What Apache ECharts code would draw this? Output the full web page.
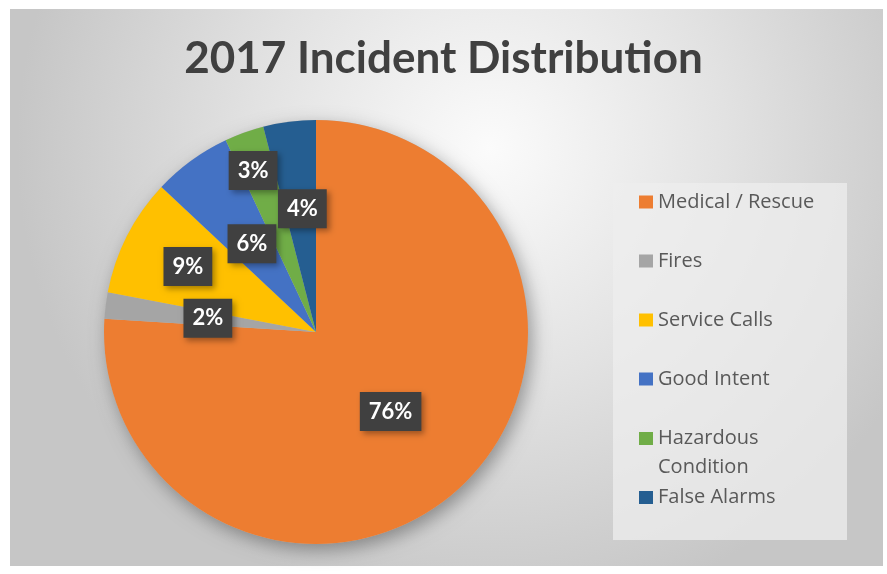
<!doctype html>
<html lang="en">
  <head>
    <meta charset="UTF-8" />
    <title>2017 Incident Distribution</title>
    <script src="https://cdn.jsdelivr.net/npm/echarts@6/dist/echarts.min.js"></script>
    <style>
      html, body { margin: 0; padding: 0; background: #fff; }
      #chart { width: 887px; height: 574px; }
    </style>
  </head>
  <body>
    <div id="chart"></div>
    <script>
      // Data
      var categories = ['Medical / Rescue', 'Fires', 'Service Calls', 'Good Intent', 'Hazardous Condition', 'False Alarms'];
      var shares = [76, 2, 9, 6, 3, 4];
      var sliceColors = ['#ED7D31', '#A5A5A5', '#FFC000', '#4472C4', '#70AD47', '#255E91'];

      // Excel nudged a few labels away from the middle radius
      var labelNudge = {
        'Service Calls': [-31, -16],
        'Hazardous Condition': [-26, -59],
        'False Alarms': [0, -15]
      };

      var pieData = categories.map(function (name, i) {
        var item = { name: name, value: shares[i], itemStyle: { color: sliceColors[i] } };
        if (labelNudge[name]) item.label = { offset: labelNudge[name] };
        return item;
      });

      // legend entries; the one after the two-line entry gets a shorter box
      var legendData = categories.map(function (name) {
        if (name === 'False Alarms') return { name: name, textStyle: { lineHeight: 38 } };
        return { name: name };
      });

      var chart = echarts.init(document.getElementById('chart'), null, { renderer: 'canvas' });

      chart.setOption({
        animation: false,
        graphic: [
          {
            type: 'rect',
            shape: { x: 10, y: 9, width: 873, height: 557 },
            style: {
              fill: {
                type: 'radial', x: 0.55, y: 0.25, r: 0.85,
                colorStops: [
                  { offset: 0, color: '#fbfbfb' },
                  { offset: 0.5, color: '#e2e2e2' },
                  { offset: 1, color: '#c6c6c6' }
                ]
              }
            },
            z: -10
          },
          {
            type: 'rect',
            shape: { x: 613, y: 183, width: 234, height: 357 },
            style: { fill: 'rgba(238,238,238,0.75)' },
            z: -9
          }
        ],
        title: {
          text: '2017 Incident Distribution',
          left: 'center',
          top: 32,
          textStyle: { fontFamily: 'Lato', fontWeight: 'bold', fontSize: 44, color: '#404040' }
        },
        legend: {
          orient: 'vertical',
          left: 639,
          top: 173,
          padding: 0,
          itemGap: 1,
          itemWidth: 14,
          itemHeight: 13,
          icon: 'rect',
          data: legendData,
          formatter: function (name) {
            if (name === 'Hazardous Condition') return 'Hazardous\n{c|Condition}';
            return name;
          },
          textStyle: {
            fontFamily: 'Open Sans', fontSize: 20, color: '#595959', lineHeight: 58,
            rich: { c: { fontFamily: 'Open Sans', fontSize: 20, color: '#595959', lineHeight: 1 } }
          }
        },
        series: [
          {
            // soft drop shadow under the whole pie
            type: 'pie',
            silent: true,
            center: [316, 332],
            radius: 212,
            label: { show: false },
            labelLine: { show: false },
            itemStyle: { color: '#bbb', shadowBlur: 18, shadowOffsetX: 4, shadowOffsetY: 6, shadowColor: 'rgba(0,0,0,0.35)' },
            data: [{ name: '', value: 1 }],
            z: 1
          },
          {
            type: 'pie',
            center: [316, 332],
            radius: 212,
            startAngle: 90,
            clockwise: true,
            avoidLabelOverlap: false,
            itemStyle: { borderWidth: 0 },
            label: {
              show: true,
              position: 'inside',
              formatter: '{c}%',
              fontFamily: 'Lato',
              fontWeight: 'bold',
              fontSize: 22,
              color: '#fff',
              backgroundColor: '#404040',
              padding: [9, 9, 8, 9],
              shadowBlur: 6,
              shadowOffsetX: 3,
              shadowOffsetY: 3,
              shadowColor: 'rgba(0,0,0,0.35)'
            },
            labelLine: { show: false },
            data: pieData,
            z: 2
          }
        ]
      });
    </script>
  </body>
</html>
